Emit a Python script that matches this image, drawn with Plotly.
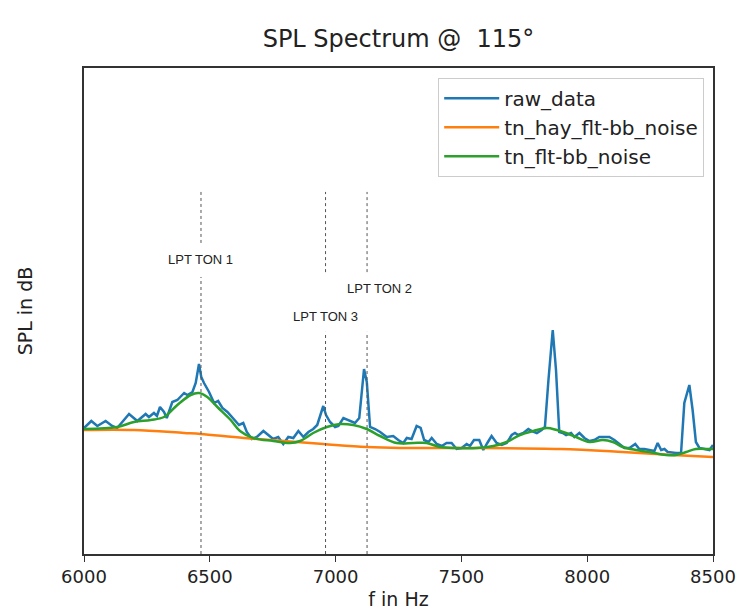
import plotly.graph_objects as go

# ---------------- data ----------------
raw_f = [6000, 6029, 6053, 6086, 6112, 6132, 6179, 6199, 6212, 6245, 6258, 6278, 6290, 6302, 6318, 6329,
         6351, 6371, 6384, 6398, 6411, 6431, 6444, 6457, 6466, 6477, 6497, 6517, 6533, 6550, 6570, 6596,
         6616, 6633, 6647, 6667, 6687, 6713, 6733, 6752, 6772, 6792, 6812, 6832, 6852, 6872, 6892, 6911,
         6927, 6941, 6951, 6962, 6978, 6998, 7011, 7031, 7051, 7077, 7094, 7104, 7113, 7124, 7137, 7157,
         7177, 7203, 7229, 7249, 7269, 7283, 7302, 7322, 7338, 7352, 7369, 7382, 7402, 7422, 7441, 7461,
         7481, 7501, 7521, 7534, 7550, 7571, 7587, 7603, 7620, 7640, 7660, 7680, 7700, 7713, 7726, 7746,
         7766, 7780, 7800, 7819, 7832, 7846, 7863, 7876, 7889, 7903, 7916, 7936, 7949, 7969, 7989, 8009,
         8028, 8048, 8068, 8088, 8108, 8128, 8148, 8168, 8191, 8207, 8227, 8247, 8267, 8280, 8294, 8307,
         8320, 8353, 8373, 8386, 8396, 8406, 8419, 8432, 8446, 8466, 8486, 8500]
raw_spl = [62.6, 63.3, 62.8, 63.3, 62.8, 62.6, 64.0, 63.6, 63.3, 64.0, 63.7, 64.1, 63.8, 64.7, 64.2, 63.6,
           65.2, 65.4, 65.7, 66.1, 65.9, 66.2, 67.1, 69.0, 67.7, 67.1, 66.2, 65.1, 65.3, 64.6, 64.2, 63.4,
           62.9, 63.1, 62.2, 61.5, 61.7, 62.3, 61.9, 61.5, 61.7, 61.0, 61.7, 61.6, 62.3, 61.7, 62.2, 62.5,
           62.9, 63.9, 64.8, 63.9, 63.2, 62.7, 62.8, 63.6, 63.4, 63.1, 63.6, 66.4, 68.5, 67.2, 62.7, 62.5,
           62.2, 61.7, 61.8, 61.4, 61.1, 61.6, 61.5, 62.8, 62.6, 61.4, 61.2, 61.6, 61.0, 60.8, 61.1, 61.1,
           60.5, 60.6, 61.0, 60.8, 61.4, 61.4, 60.4, 61.1, 61.8, 61.1, 60.9, 61.1, 61.9, 62.1, 61.9, 62.1,
           62.5, 62.3, 62.1, 62.4, 62.7, 67.4, 72.4, 68.4, 62.2, 62.1, 61.9, 62.1, 61.7, 62.1, 61.6, 61.3,
           61.4, 61.7, 61.7, 61.7, 61.4, 61.0, 60.6, 60.6, 61.0, 60.5, 60.5, 60.4, 60.3, 61.1, 60.4, 60.5,
           60.2, 60.1, 60.1, 65.1, 65.9, 66.9, 64.4, 61.2, 60.6, 60.5, 60.4, 60.9]

hay_f = [6000, 6199, 6398, 6464, 6636, 6951, 7124, 7256, 7521, 7892, 8141, 8340, 8500]
hay_spl = [62.4, 62.4, 62.1, 62.0, 61.6, 61.0, 60.7, 60.6, 60.6, 60.5, 60.2, 59.9, 59.7]

flt_f = [6000, 6132, 6199, 6265, 6318, 6371, 6424, 6457, 6490, 6530, 6583, 6620, 6673, 6752, 6819, 6859,
         6911, 6965, 7018, 7070, 7124, 7177, 7243, 7309, 7362, 7415, 7481, 7561, 7627, 7680, 7733, 7786,
         7839, 7879, 7916, 7956, 8009, 8062, 8102, 8141, 8194, 8247, 8313, 8353, 8393, 8432, 8486, 8500]
flt_spl = [62.5, 62.7, 63.2, 63.4, 63.7, 64.9, 65.9, 66.1, 65.7, 64.7, 63.4, 62.3, 61.6, 61.3, 61.1, 61.3,
           62.1, 62.7, 63.0, 62.9, 62.5, 61.8, 61.1, 61.1, 61.1, 60.7, 60.6, 60.6, 60.8, 61.2, 61.9, 62.3,
           62.6, 62.4, 62.1, 61.7, 61.2, 61.4, 61.2, 60.7, 60.4, 60.2, 59.9, 59.9, 60.2, 60.5, 60.5, 60.5]

tone_names = ["LPT TON 1", "LPT TON 3", "LPT TON 2"]
tone_freqs = [6465, 6960, 7125]

x_ticks = [6000, 6500, 7000, 7500, 8000, 8500]

# ---------------- figure ----------------
fig = go.Figure()
fig.add_trace(go.Scatter(x=raw_f, y=raw_spl, mode="lines", name="raw_data",
                         line=dict(color="#1f77b4", width=2.5)))
fig.add_trace(go.Scatter(x=hay_f, y=hay_spl, mode="lines", name="tn_hay_flt-bb_noise",
                         line=dict(color="#ff7f0e", width=2.5, shape="spline")))
fig.add_trace(go.Scatter(x=flt_f, y=flt_spl, mode="lines", name="tn_flt-bb_noise",
                         line=dict(color="#2ca02c", width=2.5, shape="spline")))

# dotted marker lines split around their labels
segments = {
    "LPT TON 1": [(0.0, 0.570), (0.640, 0.745)],
    "LPT TON 3": [(0.0, 0.457), (0.580, 0.745)],
    "LPT TON 2": [(0.0, 0.457), (0.580, 0.745)],
}
label_pos = {
    "LPT TON 1": (0.0, 0.605),
    "LPT TON 3": (0.0, 0.488),
    "LPT TON 2": (48.0, 0.547),
}
shapes = []
annotations = []
for name, f in zip(tone_names, tone_freqs):
    for y0, y1 in segments[name]:
        shapes.append(dict(type="line", xref="x", yref="paper", x0=f, x1=f, y0=y0, y1=y1,
                           line=dict(color="#555555", width=1, dash="dot")))
    dx, yp = label_pos[name]
    annotations.append(dict(x=f + dx, y=yp, xref="x", yref="paper", text=name, showarrow=False,
                            font=dict(family="Liberation Sans, Arial", size=13, color="#222222"),
                            xanchor="center", yanchor="middle"))

fig.update_layout(
    width=740, height=613,
    margin=dict(l=84, r=27, t=68, b=59, autoexpand=False),
    paper_bgcolor="white", plot_bgcolor="white",
    title=dict(text="SPL Spectrum @  115°", xref="paper", x=0.5, xanchor="center",
               y=0.937, yanchor="middle",
               font=dict(family="DejaVu Sans", size=24, color="#222222")),
    font=dict(family="DejaVu Sans", color="#222222"),
    showlegend=True,
    legend=dict(x=0.986, xanchor="right", y=0.98, yanchor="top",
                bgcolor="white", bordercolor="#cccccc", borderwidth=1,
                font=dict(size=20, family="DejaVu Sans"), tracegroupgap=0,
                itemwidth=55),
    shapes=shapes,
    annotations=annotations,
)
fig.update_xaxes(range=[6000, 8500], tickvals=x_ticks, ticktext=[str(v) for v in x_ticks],
                 ticks="outside", ticklen=6, tickwidth=1.2, tickcolor="#333333",
                 showline=True, linecolor="#333333", linewidth=1.5, mirror=True,
                 showgrid=False, zeroline=False, automargin=False,
                 tickfont=dict(size=18), title=dict(text="f in Hz", font=dict(size=19), standoff=6))
fig.update_yaxes(range=[50, 98.6], showticklabels=False, ticks="",
                 showline=True, linecolor="#333333", linewidth=1.5, mirror=True,
                 showgrid=False, zeroline=False, automargin=False,
                 title=dict(text="SPL in dB", font=dict(size=19), standoff=45))

fig.write_html("out.html")
